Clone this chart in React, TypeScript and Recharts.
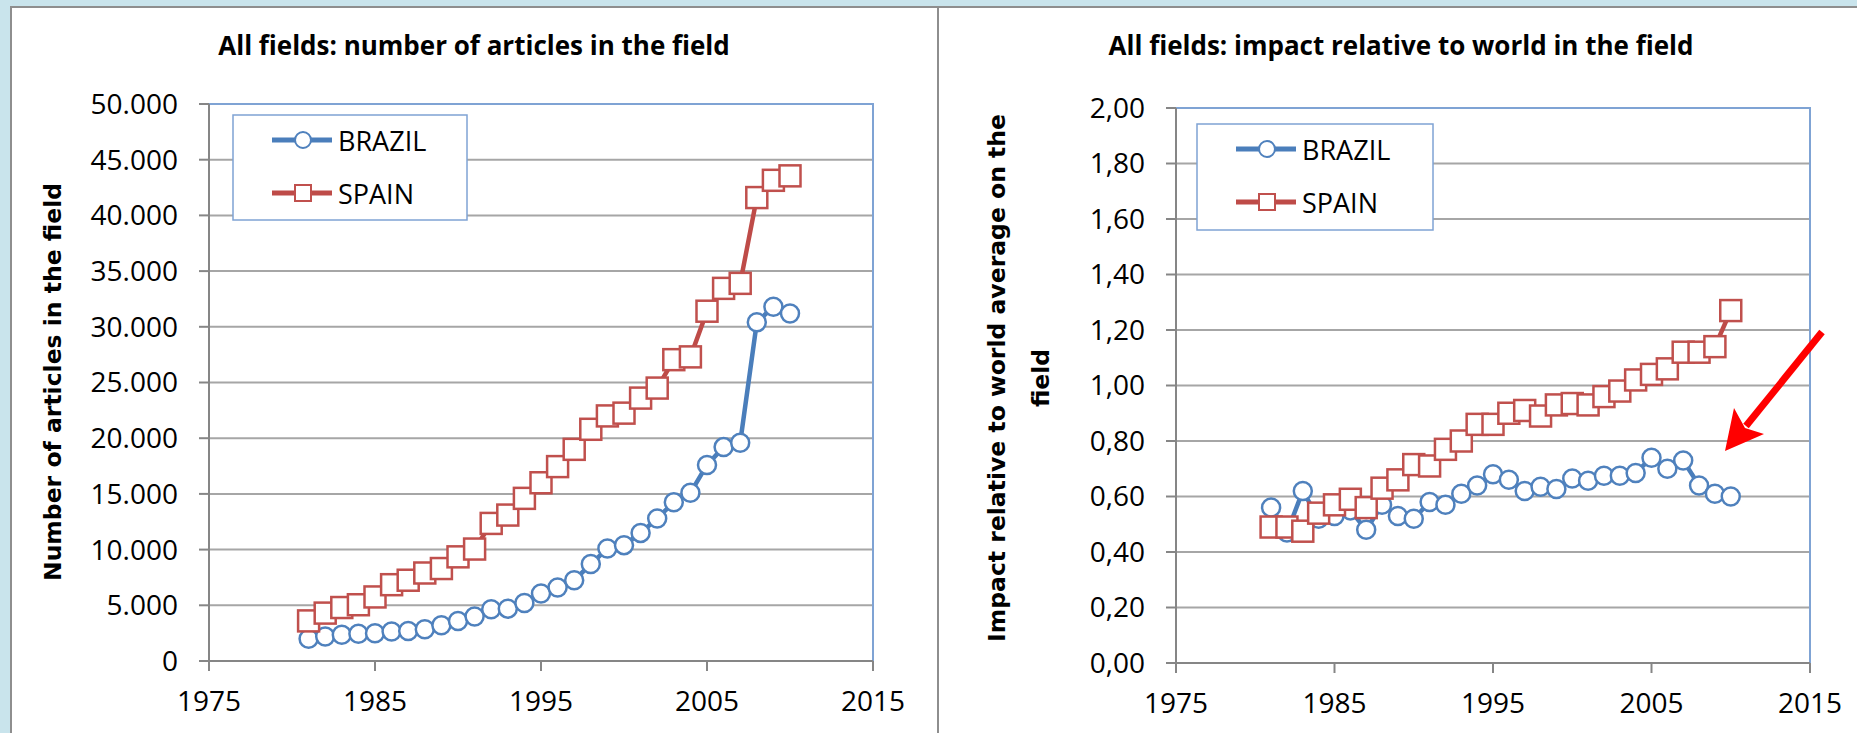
import React from "react";
import {
  LineChart,
  Line,
  XAxis,
  YAxis,
  CartesianGrid,
  Legend,
  ReferenceArea,
} from "recharts";

// years on the x axis
const years = [
  1981, 1982, 1983, 1984, 1985, 1986, 1987, 1988, 1989, 1990,
  1991, 1992, 1993, 1994, 1995, 1996, 1997, 1998, 1999, 2000,
  2001, 2002, 2003, 2004, 2005, 2006, 2007, 2008, 2009, 2010,
];

// left chart: number of articles
const brazilArticles = [
  2000, 2200, 2350, 2450, 2500, 2650, 2700, 2850, 3200, 3600,
  4000, 4650, 4700, 5200, 6050, 6600, 7250, 8700, 10100, 10400,
  11500, 12800, 14250, 15100, 17600, 19200, 19600, 30400, 31800, 31200,
];
const spainArticles = [
  3600, 4300, 4800, 5050, 5750, 6850, 7250, 7900, 8300, 9350,
  10050, 12350, 13100, 14600, 16000, 17450, 19000, 20800, 22000, 22250,
  23600, 24500, 27050, 27300, 31400, 33450, 33900, 41600, 43150, 43550,
];

// right chart: impact relative to world
const brazilImpact = [
  0.56, 0.47, 0.62, 0.52, 0.53, 0.55, 0.48, 0.57, 0.53, 0.52,
  0.58, 0.57, 0.61, 0.64, 0.68, 0.66, 0.62, 0.635, 0.627, 0.665,
  0.657, 0.675, 0.675, 0.685, 0.74, 0.70, 0.73, 0.64, 0.61, 0.60,
];
const spainImpact = [
  0.49, 0.49, 0.475, 0.54, 0.57, 0.59, 0.56, 0.63, 0.66, 0.715,
  0.71, 0.77, 0.80, 0.86, 0.86, 0.90, 0.91, 0.89, 0.93, 0.935,
  0.93, 0.96, 0.98, 1.02, 1.04, 1.06, 1.12, 1.12, 1.14, 1.27,
];

const xTicks = [1975, 1985, 1995, 2005, 2015];
const articleTicks = [0, 5000, 10000, 15000, 20000, 25000, 30000, 35000, 40000, 45000, 50000];
const impactTicks = [0, 0.2, 0.4, 0.6, 0.8, 1.0, 1.2, 1.4, 1.6, 1.8, 2.0];

const seriesNames = ["BRAZIL", "SPAIN"];

const articlesData = years.map((year, i) => ({
  year,
  BRAZIL: brazilArticles[i],
  SPAIN: spainArticles[i],
}));
const impactData = years.map((year, i) => ({
  year,
  BRAZIL: brazilImpact[i],
  SPAIN: spainImpact[i],
}));

const BLUE = "#4a7ebb";
const RED = "#be4b48";
const AXIS = "#868686";
const GRID = "#a6a6a6";
const FRAME = "#7fa3d4";

const tickFont = { fontFamily: "'Open Sans'", fontSize: 28, fill: "#000" };

const fmtThousands = (v: number) =>
  v === 0 ? "0" : `${Math.floor(v / 1000)}.${String(v % 1000).padStart(3, "0")}`;
const fmtComma = (v: number) => v.toFixed(2).replace(".", ",");

const circleDot = (p: any) => (
  <circle key={`c-${p.index}`} cx={p.cx} cy={p.cy} r={9} fill="#fff" stroke="#4f81bd" strokeWidth={2.5} />
);
const squareDot = (p: any) => (
  <rect key={`s-${p.index}`} x={p.cx - 10.5} y={p.cy - 10.5} width={21} height={21} fill="#fff" stroke="#c0504d" strokeWidth={2.5} />
);

function LegendBox({ w, h }: { w: number; h: number }) {
  const rows = [
    { name: seriesNames[0], color: BLUE, y: 26 },
    { name: seriesNames[1], color: RED, y: 79 },
  ];
  return (
    <svg width={w} height={h} style={{ display: "block" }}>
      <rect x={1} y={1} width={w - 2} height={h - 2} fill="#fff" stroke={FRAME} strokeWidth={1.5} />
      {rows.map((r) => (
        <g key={r.name}>
          <line x1={40} x2={100} y1={r.y} y2={r.y} stroke={r.color} strokeWidth={5} />
          {r.name === "BRAZIL" ? (
            <circle cx={71} cy={r.y} r={8} fill="#fff" stroke="#4f81bd" strokeWidth={2} />
          ) : (
            <rect x={63} y={r.y - 8} width={16} height={16} fill="#fff" stroke="#c0504d" strokeWidth={2} />
          )}
          <text x={106} y={r.y} dominantBaseline="central" fontFamily="'Open Sans'" fontSize={27} fill="#000">
            {r.name}
          </text>
        </g>
      ))}
    </svg>
  );
}

export default function App() {
  return (
    <div
      style={{
        position: "absolute",
        left: 0,
        top: 0,
        width: 1857,
        height: 733,
        overflow: "hidden",
        background: "#c9e4ec",
      }}
    >
      <div style={{ position: "absolute", left: 10, top: 6, width: 929, height: 740, background: "#fff", border: "2px solid #8e8e8e", boxSizing: "border-box" }} />
      <div style={{ position: "absolute", left: 937, top: 6, width: 940, height: 740, background: "#fff", border: "2px solid #8e8e8e", boxSizing: "border-box" }} />

      <div style={{ position: "absolute", left: 0, top: 0 }}>
        <LineChart width={940} height={733} data={articlesData} margin={{ top: 104, right: 67, bottom: 12, left: 0 }}>
          <CartesianGrid vertical={false} stroke={GRID} strokeWidth={2} />
          <ReferenceArea x1={1975} x2={2015} y1={0} y2={50000} fill="none" stroke={FRAME} strokeWidth={2} />
          <XAxis
            dataKey="year"
            type="number"
            domain={[1975, 2015]}
            ticks={xTicks}
            height={60}
            tickSize={10}
            tickMargin={20}
            axisLine={{ stroke: AXIS, strokeWidth: 2 }}
            tickLine={{ stroke: AXIS, strokeWidth: 2 }}
            tick={tickFont}
          />
          <YAxis
            type="number"
            domain={[0, 50000]}
            ticks={articleTicks}
            width={209}
            tickSize={10}
            tickMargin={21}
            tickFormatter={fmtThousands}
            axisLine={{ stroke: AXIS, strokeWidth: 2 }}
            tickLine={{ stroke: AXIS, strokeWidth: 2 }}
            tick={tickFont}
          />
          <Legend
            layout="vertical"
            align="center"
            verticalAlign="middle"
            wrapperStyle={{ left: 232, top: 114, width: 236, height: 107 }}
            content={() => <LegendBox w={236} h={107} />}
          />
          <Line type="linear" dataKey="BRAZIL" stroke={BLUE} strokeWidth={4.5} dot={circleDot} isAnimationActive={false} />
          <Line type="linear" dataKey="SPAIN" stroke={RED} strokeWidth={4.5} dot={squareDot} isAnimationActive={false} />
        </LineChart>
      </div>

      <div style={{ position: "absolute", left: 939, top: 0 }}>
        <LineChart width={918} height={733} data={impactData} margin={{ top: 108, right: 47, bottom: 10, left: 0 }}>
          <CartesianGrid vertical={false} stroke={GRID} strokeWidth={2} />
          <ReferenceArea x1={1975} x2={2015} y1={0} y2={2} fill="none" stroke={FRAME} strokeWidth={2} />
          <XAxis
            dataKey="year"
            type="number"
            domain={[1975, 2015]}
            ticks={xTicks}
            height={60}
            tickSize={10}
            tickMargin={20}
            axisLine={{ stroke: AXIS, strokeWidth: 2 }}
            tickLine={{ stroke: AXIS, strokeWidth: 2 }}
            tick={tickFont}
          />
          <YAxis
            type="number"
            domain={[0, 2]}
            ticks={impactTicks}
            width={237}
            tickSize={10}
            tickMargin={21}
            tickFormatter={fmtComma}
            axisLine={{ stroke: AXIS, strokeWidth: 2 }}
            tickLine={{ stroke: AXIS, strokeWidth: 2 }}
            tick={tickFont}
          />
          <Legend
            layout="vertical"
            align="center"
            verticalAlign="middle"
            wrapperStyle={{ left: 257, top: 123, width: 238, height: 108 }}
            content={() => <LegendBox w={238} h={108} />}
          />
          <Line type="linear" dataKey="BRAZIL" stroke={BLUE} strokeWidth={4.5} dot={circleDot} isAnimationActive={false} />
          <Line type="linear" dataKey="SPAIN" stroke={RED} strokeWidth={4.5} dot={squareDot} isAnimationActive={false} />
        </LineChart>
      </div>

      {/* titles, axis titles and the arrow */}
      <svg width={1857} height={733} style={{ position: "absolute", left: 0, top: 0, pointerEvents: "none" }}>
        <g fontFamily="'Open Sans'" fontWeight="bold" fontSize={26} fill="#000" textAnchor="middle">
          <text x={474} y={45} dominantBaseline="central">All fields: number of articles in the field</text>
          <text x={1401} y={45} dominantBaseline="central">All fields: impact relative to world in the field</text>
        </g>
        <g fontFamily="'DejaVu Sans'" fontWeight="bold" fontSize={23.5} fill="#000" textAnchor="middle">
          <text transform="translate(53,382) rotate(-90)" dominantBaseline="central">Number of articles in the field</text>
          <text transform="translate(997,378) rotate(-90)" dominantBaseline="central">Impact  relative to world average on the</text>
          <text transform="translate(1041,378) rotate(-90)" dominantBaseline="central">field</text>
        </g>
        <line x1={1822} y1={332} x2={1746} y2={426} stroke="#ff0000" strokeWidth={7} />
        <polygon points="1725,451 1734,408 1745,428 1764,434" fill="#ff0000" />
      </svg>
    </div>
  );
}
